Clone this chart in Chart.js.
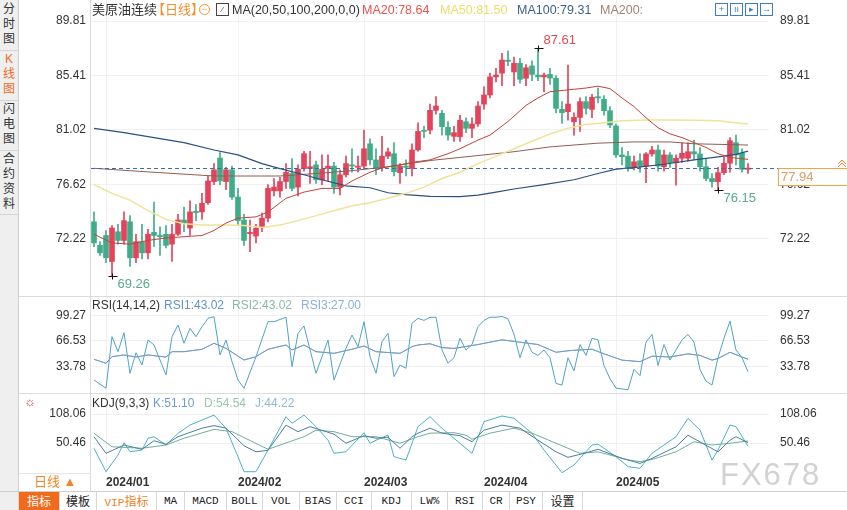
<!DOCTYPE html>
<html><head><meta charset="utf-8">
<script src="https://cdn.jsdelivr.net/npm/chart.js@4.4.1/dist/chart.umd.min.js"></script>
<style>
body{margin:0;width:847px;height:510px;overflow:hidden;background:#fff;position:relative;font-family:"Liberation Sans","Noto Sans CJK SC",sans-serif;}
canvas{position:absolute;left:0}
.t{position:absolute;font-size:12px;line-height:16px;white-space:nowrap;color:#333}
.ln{position:absolute;background:#dcdcdc}
#side{position:absolute;left:0;top:0;width:18px;height:491px;background:#efefef;border-right:1px solid #d0d0d0}
.sv{position:absolute;left:0;width:18px;text-align:center;font-size:12px;line-height:15px;color:#333;border-bottom:1px solid #d4d4d4}
#bar{position:absolute;left:0;top:491px;width:847px;height:19px;border-top:1px solid #cfcfcf;background:#fff;display:flex}
#bar div{height:19px;line-height:18px;text-align:center;font-size:11px;border-right:1px solid #d8d8d8;color:#222;font-family:"Liberation Mono","Noto Sans CJK SC",monospace;box-sizing:border-box}
.ico{position:absolute;top:3px;width:11px;height:11px;border:1px solid #3b7dc4;color:#3b7dc4;font-size:9px;line-height:11px;text-align:center}
</style></head>
<body>
<div id="side">
  <div class="sv" style="top:2px;height:48px">分<br>时<br>图</div>
  <div class="sv" style="top:52px;height:48px;color:#f06a1e">K<br>线<br>图</div>
  <div class="sv" style="top:102px;height:48px">闪<br>电<br>图</div>
  <div class="sv" style="top:152px;height:62px">合<br>约<br>资<br>料</div>
</div>
<canvas id="cMain" width="847" height="296" style="top:0"></canvas>
<canvas id="cRsi" width="847" height="97" style="top:296px"></canvas>
<canvas id="cKdj" width="847" height="97" style="top:393px"></canvas>

<div class="ln" style="left:90px;top:0;width:1px;height:491px"></div>
<div class="ln" style="left:19px;top:296px;width:828px;height:1px"></div>
<div class="ln" style="left:19px;top:393px;width:828px;height:1px"></div>
<div class="ln" style="left:19px;top:473px;width:72px;height:1px;background:#e6e6e6"></div>

<div class="t" style="left:92px;top:2px;font-size:13px">美原油连续</div>
<div class="t" style="left:152px;top:2px;font-size:13px;color:#f0932f">【日线】</div>
<div class="t" style="left:199px;top:4px;width:9px;height:9px;border:1px solid #f0932f;border-radius:50%;font-size:9px;line-height:9px;text-align:center;color:#f0932f">−</div>
<div class="t" style="left:216px;top:3px;width:11px;height:11px;border:1px solid #444;font-size:8px;line-height:11px;text-align:center">⁄</div>
<div class="t" style="left:232px;top:2px;font-size:12.5px">MA(20,50,100,200,0,0)</div>
<div class="t" style="left:362px;top:2px;font-size:12.5px;color:#e2554f">MA20:78.64</div>
<div class="t" style="left:440px;top:2px;font-size:12.5px;color:#ecdc6a">MA50:81.50</div>
<div class="t" style="left:517px;top:2px;font-size:12.5px;color:#3d5f8f">MA100:79.31</div>
<div class="t" style="left:600px;top:2px;font-size:12.5px;color:#a5826e">MA200:</div>
<div class="ico" style="left:715px">+</div>
<div class="ico" style="left:730px">ıı</div>
<div class="ico" style="left:745px">▸</div>
<div class="ico" style="left:760px">→</div>

<div class="t" style="left:92px;top:297px">RSI(14,14,2)</div>
<div class="t" style="left:164px;top:297px;color:#5f93cc">RSI1:43.02</div>
<div class="t" style="left:232px;top:297px;color:#86bba3">RSI2:43.02</div>
<div class="t" style="left:301px;top:297px;color:#87b2d6">RSI3:27.00</div>

<div class="t" style="left:24px;top:394px;color:#e04848;font-size:13px">☼</div>
<div class="t" style="left:92px;top:395px">KDJ(9,3,3)</div>
<div class="t" style="left:153px;top:395px;color:#6f9bd0">K:51.10</div>
<div class="t" style="left:204px;top:395px;color:#97c9aa">D:54.54</div>
<div class="t" style="left:255px;top:395px;color:#8ebad9">J:44.22</div>

<div class="t" style="left:34px;top:474px;font-size:13px;color:#f0842a">日线 ▲</div>
<div class="t" style="left:720px;top:459px;font-size:31px;line-height:31px;letter-spacing:2px;color:#d2d2d2">FX678</div>

<div id="bar">
  <div style="width:19px;background:#efefef"></div>
  <div style="width:41px;background:#f26b1d;color:#fff;font-family:'Noto Sans CJK SC';font-size:12px">指标</div>
  <div style="width:37px;font-family:'Noto Sans CJK SC';font-size:12px">模板</div>
  <div style="width:60px;color:#e8851c">VIP<span style="font-family:'Noto Sans CJK SC';font-size:12px">指标</span></div>
  <div style="width:28px">MA</div>
  <div style="width:42px">MACD</div>
  <div style="width:36px">BOLL</div>
  <div style="width:37px">VOL</div>
  <div style="width:37px">BIAS</div>
  <div style="width:35px">CCI</div>
  <div style="width:40px">KDJ</div>
  <div style="width:36px">LW%</div>
  <div style="width:35px">RSI</div>
  <div style="width:27px">CR</div>
  <div style="width:33px">PSY</div>
  <div style="width:40px;font-family:'Noto Sans CJK SC';font-size:12px">设置</div>
</div>

<script>
// ---------- DATA ----------
const categories = ['2023-12-28','2023-12-29',
'2024-01-02','2024-01-03','2024-01-04','2024-01-05','2024-01-08','2024-01-09','2024-01-10','2024-01-11','2024-01-12','2024-01-15','2024-01-16','2024-01-17','2024-01-18','2024-01-19','2024-01-22','2024-01-23','2024-01-24','2024-01-25','2024-01-26','2024-01-29','2024-01-30','2024-01-31',
'2024-02-01','2024-02-02','2024-02-05','2024-02-06','2024-02-07','2024-02-08','2024-02-09','2024-02-12','2024-02-13','2024-02-14','2024-02-15','2024-02-16','2024-02-19','2024-02-20','2024-02-21','2024-02-22','2024-02-23','2024-02-26','2024-02-27','2024-02-28','2024-02-29',
'2024-03-01','2024-03-04','2024-03-05','2024-03-06','2024-03-07','2024-03-08','2024-03-11','2024-03-12','2024-03-13','2024-03-14','2024-03-15','2024-03-18','2024-03-19','2024-03-20','2024-03-21','2024-03-22','2024-03-25','2024-03-26','2024-03-27','2024-03-28',
'2024-04-01','2024-04-02','2024-04-03','2024-04-04','2024-04-05','2024-04-08','2024-04-09','2024-04-10','2024-04-11','2024-04-12','2024-04-15','2024-04-16','2024-04-17','2024-04-18','2024-04-19','2024-04-22','2024-04-23','2024-04-24','2024-04-25','2024-04-26','2024-04-29','2024-04-30',
'2024-05-01','2024-05-02','2024-05-03','2024-05-06','2024-05-07','2024-05-08','2024-05-09','2024-05-10','2024-05-13','2024-05-14','2024-05-15','2024-05-16','2024-05-17','2024-05-20','2024-05-21','2024-05-22','2024-05-23','2024-05-24','2024-05-27','2024-05-28','2024-05-29','2024-05-30','2024-05-31'];

const monthTickDates  = ['2024-01-02','2024-02-01','2024-03-01','2024-04-01','2024-05-01'];
const monthTickLabels = ['2024/01','2024/02','2024/03','2024/04','2024/05'];
const priceTicks = [72.22,76.62,81.02,85.41,89.81];
const rsiTicks = [33.78,66.53,99.27];
const kdjTicks = [50.46,108.06];

const open = [
73.6,71.7,72.5,70.4,72.8,72.1,73.6,70.7,72.0,71.1,
72.75,72.5,72.6,71.8,72.6,73.75,73.1,74.45,74.4,75.15,
76.85,78.75,76.85,77.8,75.6,73.75,72.65,72.45,73.2,73.9,
76.1,76.1,76.85,77.5,76.4,77.9,77.9,78.2,76.98,77.92,
78.1,76.4,77.4,78.2,78.0,78.1,79.9,78.6,78.05,78.9,
79.1,77.57,78.1,77.9,79.4,80.95,81.0,82.6,82.36,81.23,
80.5,80.47,81.68,81.15,81.5,83.1,83.84,85.3,85.6,86.65,
85.7,86.4,85.19,86.18,85.45,85.3,85.5,85.19,82.68,82.49,
81.68,82.03,83.3,82.68,83.7,83.49,82.57,81.34,79.0,78.9,
78.0,78.53,78.1,79.08,79.4,78.05,79.0,78.37,78.73,78.73,
79.26,79.08,78.05,77.1,76.84,77.57,78.33,79.99,79.13,77.84];
const high = [
74.4,72.0,72.9,73.3,73.4,74.4,74.1,72.6,73.4,73.0,
75.2,73.2,73.3,73.4,74.2,74.8,75.3,75.0,75.9,77.3,
78.3,79.2,78.0,78.1,76.3,74.2,73.75,73.4,74.3,76.6,
77.1,77.2,78.3,78.7,78.2,79.3,79.3,78.5,79.0,79.0,
78.4,77.8,78.9,79.5,78.9,81.0,80.3,79.5,80.5,79.55,
80.0,78.3,78.6,79.9,81.6,81.3,83.1,83.7,82.6,81.7,
81.3,82.2,82.0,82.0,83.3,84.5,85.6,86.0,87.2,87.4,
86.9,86.8,86.3,86.6,87.61,85.6,86.0,85.4,83.3,86.26,
82.4,83.6,83.7,83.9,84.4,83.8,82.9,81.5,79.6,79.3,
78.9,79.1,79.2,79.7,79.8,79.4,79.2,79.0,80.0,80.0,
80.2,79.6,78.7,77.5,78.0,78.8,80.4,80.6,79.5,78.3];
const low = [
71.6,70.9,70.3,69.26,71.8,71.8,70.0,70.3,70.6,70.6,
71.6,70.9,71.5,70.4,72.5,72.8,72.5,73.7,73.8,75.0,
76.6,76.6,76.2,75.4,73.4,71.7,71.2,71.9,72.8,73.6,
75.7,75.6,76.3,76.1,75.7,77.7,76.7,76.7,76.6,76.9,
75.9,75.77,77.2,77.6,77.6,77.9,78.2,77.4,77.7,78.7,
77.3,76.7,77.3,77.3,79.3,80.4,80.7,82.3,80.6,80.2,
80.1,80.1,80.8,80.4,81.3,82.7,83.6,84.9,84.6,86.2,
84.6,84.8,84.6,85.0,85.0,84.1,84.7,82.4,81.55,81.8,
80.6,80.9,82.3,82.0,83.2,82.2,81.2,78.8,78.2,77.7,
77.8,77.6,76.76,78.9,77.7,77.7,78.0,76.57,78.4,78.5,
78.6,77.7,76.9,76.4,76.15,77.4,77.6,78.2,77.6,77.5];
const close = [
71.9,71.1,70.7,73.1,72.1,73.7,70.7,72.0,71.1,72.6,
72.5,72.4,71.7,72.6,73.75,73.5,74.4,74.35,75.1,76.9,
77.8,76.9,77.8,75.6,73.7,72.1,72.75,73.1,73.9,76.3,
76.4,76.85,77.6,76.3,77.85,79.1,78.05,77.0,77.84,78.1,
76.4,77.4,78.3,78.1,78.1,79.5,78.6,77.9,78.9,79.25,
77.65,78.1,78.0,79.4,80.9,80.9,82.6,82.95,81.28,80.6,
80.8,81.8,81.15,81.5,82.95,83.84,85.3,85.45,86.66,86.55,
86.4,85.1,86.04,85.5,85.3,85.45,85.2,82.76,82.41,83.11,
82.03,83.3,82.76,83.65,83.6,82.57,81.42,79.0,78.86,77.92,
78.45,78.1,79.08,79.4,78.1,79.0,78.37,78.73,79.13,79.26,
79.08,78.05,77.1,76.84,77.57,78.33,80.15,79.0,77.84,77.94];

// moving averages: [candle index, value]
const ma20 = [[0,72.6],[3,71.9],[6,71.8],[9,72.1],[12,72.3],[15,72.4],[18,72.5],[20,72.9],[22,73.5],[24,73.9],[27,74.0],[29,74.4],[32,75.5],[35,76.0],[38,76.3],[41,76.3],[43,76.9],[46,77.6],[48,77.95],[51,78.2],[53,78.4],[56,78.6],[59,79.1],[61,79.5],[64,80.2],[66,80.6],[69,81.7],[72,83.0],[74,83.6],[76,84.1],[79,84.25],[82,84.4],[84,84.55],[86,84.35],[88,83.6],[90,82.9],[92,82.0],[94,81.2],[96,80.7],[98,80.4],[100,80.0],[102,79.6],[104,79.1],[106,78.8],[109,78.64]];
const ma50 = [[0,76.6],[3,75.9],[6,75.35],[9,74.5],[12,73.8],[15,73.45],[18,73.35],[22,73.35],[25,73.3],[28,73.15],[31,73.35],[34,73.7],[37,74.1],[40,74.5],[43,74.9],[46,75.15],[49,75.5],[52,75.9],[55,76.4],[58,77.1],[61,77.6],[64,78.3],[67,78.9],[70,79.5],[73,80.1],[76,80.7],[79,81.15],[82,81.45],[85,81.6],[88,81.75],[92,81.82],[96,81.82],[100,81.8],[104,81.75],[107,81.6],[109,81.5]];
const ma100 = [[0,81.15],[5,80.8],[10,80.4],[15,80.0],[20,79.4],[24,79.0],[28,78.3],[31,77.9],[35,77.4],[38,77.0],[42,76.5],[46,76.35],[49,75.95],[52,75.8],[56,75.65],[61,75.63],[64,75.75],[67,76.0],[70,76.25],[75,76.6],[80,77.0],[84,77.5],[87,77.85],[90,77.98],[95,78.25],[100,78.6],[104,78.85],[107,79.05],[109,79.31]];
const ma200 = [[0,77.92],[10,77.6],[20,77.3],[31,77.3],[37,77.5],[43,77.73],[49,78.05],[56,78.55],[62,78.85],[70,79.26],[76,79.65],[84,79.95],[90,80.05],[96,80.05],[100,79.9],[109,79.8]];

// RSI (14 / 14 / 2)
const rsi14 = [[0,43],[2,37.9],[3,46.4],[5,48.6],[7,45.9],[9,48.6],[12,45.9],[13,52.8],[15,52.8],[18,55.9],[20,63.6],[22,57.1],[25,42.1],[27,46.4],[29,55.9],[32,61.4],[33,55],[35,61.4],[37,52.8],[40,50.7],[43,55.9],[45,60.1],[47,52.8],[51,50.7],[53,59.2],[54,61.4],[56,63],[58,58],[60,57],[64,62],[68,68],[70,66],[74,62],[77,52],[79,54],[83,56],[85,50],[88,42],[91,40],[93,47],[96,46],[99,50],[101,48],[103,42],[104,44],[106,52],[108,46],[109,43.02]];
const rsi2 = [[0,16.4],[2,5.8],[3,72.1],[4,52.8],[5,77.2],[6,25],[7,51.5],[8,35.7],[9,67.8],[10,61.4],[12,22.9],[13,72.1],[14,87.1],[15,63.6],[16,82.8],[17,72.1],[18,84.9],[19,95.7],[20,97.7],[21,48.6],[22,67.8],[23,40],[24,16.4],[25,5.8],[27,46.4],[29,91.3],[30,91.3],[32,97],[33,33.5],[34,76.4],[35,85.8],[37,25],[39,67.8],[40,16.4],[42,57.1],[43,74.2],[44,59.2],[45,91.3],[46,46.4],[47,25],[48,65.6],[49,76.4],[50,20.7],[51,35.7],[52,31.5],[53,89.3],[54,95.7],[55,93],[56,97],[57,97],[58,55],[59,38],[60,45],[61,70],[62,55],[63,62],[64,85],[65,93],[66,97],[67,97],[68,98],[69,95],[70,75],[71,45],[72,68],[73,52],[74,48],[75,55],[76,45],[77,12],[78,10],[79,45],[80,28],[81,62],[82,48],[83,70],[84,68],[85,35],[86,18],[87,6],[88,5],[89,4],[90,30],[91,22],[92,65],[93,75],[94,35],[95,62],[96,42],[97,55],[98,68],[99,75],[100,65],[101,30],[102,15],[103,10],[104,45],[105,70],[106,92],[107,55],[108,45],[109,27]];

// KDJ (9,3,3)
const kLine = [[0,63],[2,30],[5,46.5],[8,38],[10,55],[12,48],[14,63],[18,80],[20,85],[22,80],[25,45],[27,33],[29,36],[32,86],[34,73],[36,83],[40,68],[42,50],[45,65],[47,60],[49,62],[51,40],[53,63],[54,70],[56,80],[58,70],[61,65],[63,53],[65,76],[68,86],[71,80],[74,56],[77,33],[79,22],[82,31],[84,38],[88,20],[91,10],[93,20],[97,43],[99,66],[102,46],[104,33],[106,56],[107,63],[109,51.1]];
const dLine = [[0,69.7],[3,43],[8,40],[12,46.5],[15,60],[20,77.6],[23,73],[29,38],[35,63],[37,76],[40,73],[43,63],[47,63],[51,50],[54,63],[56,70],[60,71],[62,66],[63,58],[66,70],[70,80],[73,70],[77,50],[81,30],[84,33],[89,17],[91,13.4],[93,17.7],[97,33],[100,53],[103,46.5],[106,50],[109,54.54]];
const jLine = [[0,39.9],[2,-6.5],[4,26.6],[5,51],[6,33.2],[8,36.5],[9,59.8],[10,63],[12,46.5],[14,69.7],[16,86.2],[20,106],[22,79.6],[24,23.3],[25,-6.5],[27,-6.5],[29,36.5],[32,102.7],[33,89.6],[35,106],[37,82.8],[39,56.4],[40,30],[42,33.2],[45,70.9],[46,50],[47,56],[49,66.3],[50,23.3],[52,16.7],[54,82.8],[56,102.7],[58,79.6],[60,59.8],[63,30],[65,92.8],[68,104.1],[70,99.5],[73,69.7],[75,36.5],[78,-8.5],[80,6.8],[83,46.5],[84,48.2],[87,23.3],[89,3.5],[91,0.2],[93,30],[97,63],[99,99.5],[101,76.3],[103,16.7],[104,36.5],[106,86.2],[107,82.8],[109,44.22]];

// ---------- RENDER ----------
const FONT = '"Liberation Sans","Noto Sans CJK SC",sans-serif';
const UP = '#e4435b', DOWN = '#3fae88';
const labels = categories.concat(['','','']);
const monthIdx = monthTickDates.map(d => categories.indexOf(d));
const pts = a => a.map(([i,v]) => ({x: categories[i], y: v}));
const candleColors = close.map((c,i) => c >= open[i] ? UP : DOWN);

function yAxis(pos, min, max, ticks, width, pad){
  return {position: pos, min, max,
    afterBuildTicks: s => { s.ticks = ticks.map(v => ({value: v})); },
    ticks: {callback: v => Number(v).toFixed(2), color: '#333', font: {size: 12, family: FONT}, padding: pad},
    grid: {display: pos === 'left', color: '#f1f1f1', drawTicks: false},
    border: {display: false},
    afterFit: s => { s.width = width; s.paddingTop = 0; s.paddingBottom = 0; }};
}
function xAxis(show){
  return {type: 'category', offset: true,
    grid: {offset: false, color: '#f1f1f1', drawTicks: false}, border: {display: false},
    afterBuildTicks: s => { s.ticks = monthIdx.map(i => ({value: i})); },
    ticks: {display: show, autoSkip: false, maxRotation: 0, minRotation: 0, align: 'start', padding: 2,
      color: '#333', font: {size: 12, weight: 'bold', family: FONT}, callback: (v, i) => monthTickLabels[i]},
    afterFit: s => { s.height = show ? 17 : 0; s.paddingLeft = 0; s.paddingRight = 0; }};
}
const baseOpts = {responsive: false, maintainAspectRatio: false, animation: false, devicePixelRatio: 1,
  layout: {padding: 0}, plugins: {legend: {display: false}, tooltip: {enabled: false}}};
const lineDs = (data, color, width, yID) => ({type: 'line', data: pts(data), borderColor: color, borderWidth: width || 1,
  pointRadius: 0, tension: 0, fill: false, yAxisID: yID || 'y'});

const mainPlugin = {
  id: 'mainExtras',
  afterDatasetsDraw(chart){
    const {ctx, scales: {x, y}, chartArea} = chart;
    ctx.save();
    const last = close.length - 1;
    const py = Math.round(y.getPixelForValue(close[last])) + 0.5;
    ctx.strokeStyle = '#3b6ea8'; ctx.lineWidth = 1; ctx.setLineDash([4,3]);
    ctx.beginPath(); ctx.moveTo(chartArea.left, py); ctx.lineTo(778, py); ctx.stroke();
    ctx.setLineDash([]);
    const hiIdx = high.indexOf(Math.max(...high));
    const loIdx = low.indexOf(Math.min(...low));
    const tail = low.slice(hiIdx);
    const lo2Idx = hiIdx + tail.indexOf(Math.min(...tail));
    ctx.font = '13px ' + FONT; ctx.textBaseline = 'middle'; ctx.textAlign = 'left';
    const mark = (i, v, color, above) => {
      const px = Math.round(x.getPixelForValue(i)) + 0.5, my = Math.round(y.getPixelForValue(v)) + 0.5;
      ctx.strokeStyle = '#111'; ctx.beginPath();
      ctx.moveTo(px - 4, my); ctx.lineTo(px + 5, my);
      ctx.moveTo(px, my - 3); ctx.lineTo(px, my + 3); ctx.stroke();
      ctx.fillStyle = color;
      ctx.fillText(v.toFixed(2), px + 5, above ? my - 8 : my + 8);
    };
    mark(hiIdx, high[hiIdx], '#e04b50', true);
    mark(loIdx, low[loIdx], '#5aa88c', false);
    mark(lo2Idx, low[lo2Idx], '#5aa88c', false);
    ctx.restore();
  },
  afterDraw(chart){
    const {ctx, scales: {y}} = chart;
    const last = close.length - 1;
    const py = Math.round(y.getPixelForValue(close[last]));
    ctx.save();
    ctx.fillStyle = '#fff'; ctx.fillRect(778, py, 69, 18);
    ctx.strokeStyle = '#f0a54a'; ctx.lineWidth = 1; ctx.strokeRect(778.5, py + 0.5, 70, 17);
    ctx.fillStyle = '#d9a067'; ctx.font = '13px ' + FONT; ctx.textBaseline = 'middle'; ctx.textAlign = 'left';
    ctx.fillText(close[last].toFixed(2), 781, py + 9.5);
    ctx.strokeStyle = '#f0842a'; ctx.beginPath();
    ctx.moveTo(838, py - 4); ctx.lineTo(842, py - 8); ctx.lineTo(846, py - 4);
    ctx.moveTo(838, py - 1); ctx.lineTo(842, py - 5); ctx.lineTo(846, py - 1); ctx.stroke();
    ctx.restore();
  }
};

new Chart(document.getElementById('cMain'), {
  type: 'bar',
  data: {labels, datasets: [
    lineDs(ma20, '#c0443e', 1),
    lineDs(ma50, '#f1e29a', 1.5),
    lineDs(ma100, '#2b4f80', 1.2),
    lineDs(ma200, '#8e5e52', 1),
    {label: 'body', data: open.map((o,i) => [o, close[i]]), backgroundColor: candleColors, barThickness: 5,
      minBarLength: 1, grouped: false, order: 5},
    {label: 'wick', data: low.map((l,i) => [l, high[i]]), backgroundColor: candleColors, barThickness: 1,
      grouped: false, order: 6}
  ]},
  options: Object.assign({}, baseOpts, {scales: {
    x: xAxis(false),
    y: yAxis('left', 67.615, 91.505, priceTicks, 91, 5),
    yR: yAxis('right', 67.615, 91.505, priceTicks, 78, 11)
  }}),
  plugins: [mainPlugin]
});

new Chart(document.getElementById('cRsi'), {
  type: 'line',
  data: {labels, datasets: [
    lineDs(rsi14, '#6f9bd0', 1),
    lineDs(rsi14, '#93bba8', 1),
    lineDs(rsi2, '#4fa3c2', 1)
  ]},
  options: Object.assign({}, baseOpts, {scales: {
    x: xAxis(false),
    y: yAxis('left', -0.25, 124.3, rsiTicks, 91, 5),
    yR: yAxis('right', -0.25, 124.3, rsiTicks, 78, 11)
  }})
});

new Chart(document.getElementById('cKdj'), {
  type: 'line',
  data: {labels, datasets: [
    lineDs(kLine, '#4c7e9e', 1),
    lineDs(dLine, '#6fae9c', 1),
    lineDs(jLine, '#4db0c8', 1)
  ]},
  options: Object.assign({}, baseOpts, {scales: {
    x: xAxis(true),
    y: yAxis('left', -9.1, 149.8, kdjTicks, 91, 5),
    yR: yAxis('right', -9.1, 149.8, kdjTicks, 78, 11)
  }})
});
</script>
</body></html>
